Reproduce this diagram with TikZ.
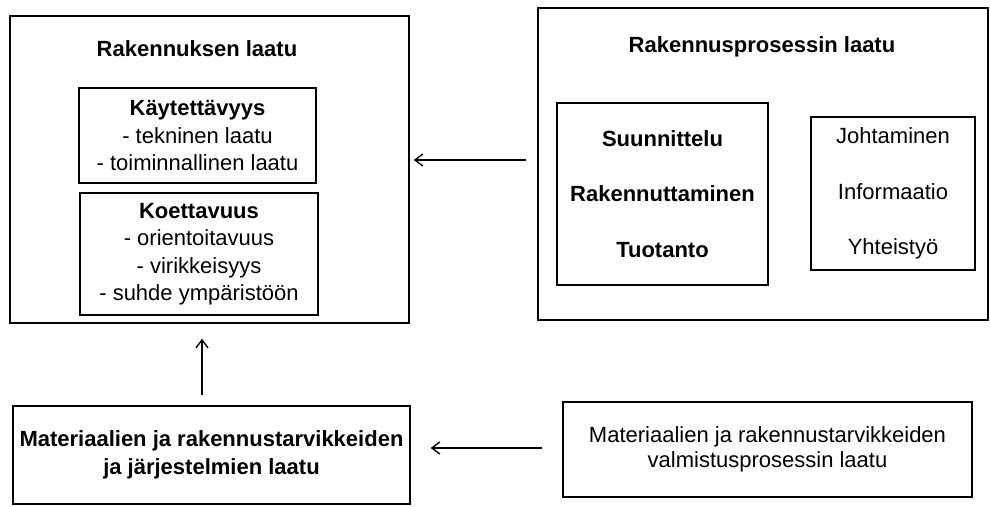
\documentclass[tikz,border=0pt]{standalone}
\usepackage{fontspec}
\setmainfont{Liberation Sans}
\usetikzlibrary{arrows.meta}
\begin{document}
\begin{tikzpicture}[x=1pt,y=-1pt,
  box/.style={draw, line width=1.4pt, rectangle, inner sep=0pt, align=center},
  txt/.style={font=\fontsize{22}{27.5}\selectfont, align=center, inner sep=0pt},
  btxt/.style={font=\fontsize{22}{27.5}\selectfont\bfseries, align=center, inner sep=0pt},
  arr/.style={-{Straight Barb[length=8pt,width=12pt,line width=1.4pt]}, line width=1.4pt}]
\useasboundingbox (0,0) rectangle (990,506);
\fill[white] (0,0) rectangle (990,506);
% left big box
\node[box, minimum width=399, minimum height=307] (lb) at (209.5,169.5) {};
\node[btxt] (lbt) at (197,49) {Rakennuksen laatu};
\node[box, txt, minimum width=237, minimum height=95] (kt) at (197.5,135.5)
  {\textbf{Käytettävyys}\\- tekninen laatu\\- toiminnallinen laatu};
\node[box, txt, minimum width=238, minimum height=122] (ko) at (199,254)
  {\textbf{Koettavuus}\\- orientoitavuus\\- virikkeisyys\\- suhde ympäristöön};
% right big box
\node[box, minimum width=450, minimum height=312] (rb) at (763,164) {};
\node[btxt] (rbt) at (762,47) {Rakennusprosessin laatu};
\node[box, btxt, minimum width=211, minimum height=182] (su) at (662.5,194)
  {Suunnittelu\\[28pt]Rakennuttaminen\\[28pt]Tuotanto};
\node[box, txt, minimum width=164, minimum height=153] (jo) at (893,193.5)
  {Johtaminen\\[28pt]Informaatio\\[28pt]Yhteistyö};
% bottom boxes
\node[box, btxt, minimum width=397, minimum height=98] (bl) at (211.5,455)
  {Materiaalien ja rakennustarvikkeiden\\ja järjestelmien laatu};
\node[box, txt, minimum width=409, minimum height=95] (br) at (767.5,449.5)
  {Materiaalien ja rakennustarvikkeiden\\[-2.5pt]valmistusprosessin laatu};
% arrows
\coordinate (y1) at (0,160);
\coordinate (y2) at (0,448);
\coordinate (x1) at (202,0);
\draw[arr, shorten <=11pt, shorten >=4pt] (rb.west |- y1) -- (lb.east |- y1);
\draw[arr, shorten <=20pt, shorten >=20pt] (br.west |- y2) -- (bl.east |- y2);
\draw[arr, shorten <=10pt, shorten >=15pt] (bl.north -| x1) -- (lb.south -| x1);
\end{tikzpicture}
\end{document}
